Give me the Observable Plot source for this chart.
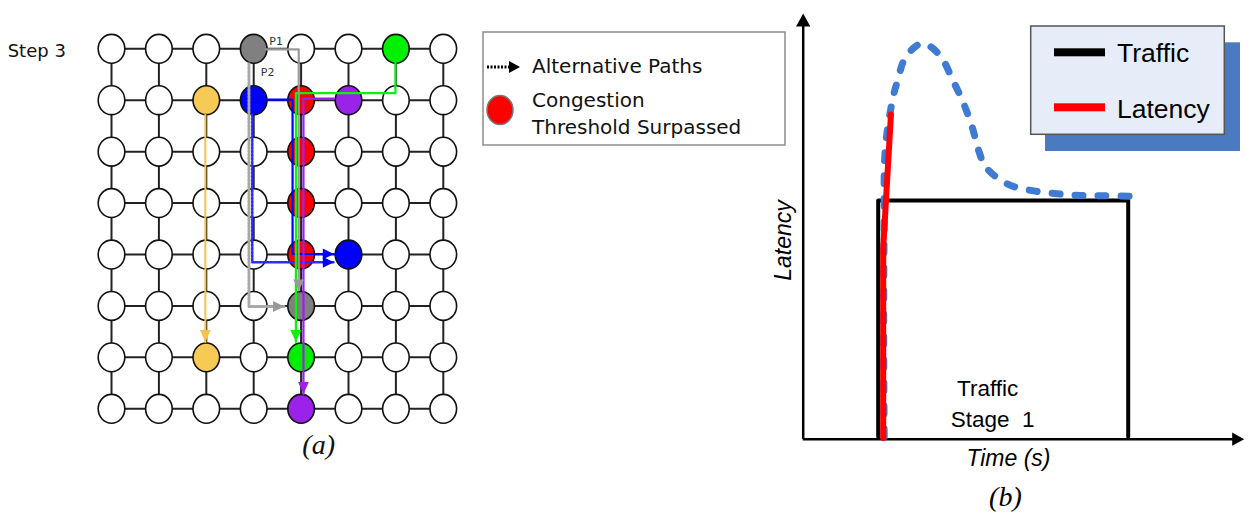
<!DOCTYPE html>
<html><head><meta charset="utf-8">
<script src="https://cdn.jsdelivr.net/npm/d3@7"></script>
<script src="https://cdn.jsdelivr.net/npm/@observablehq/plot@0.6"></script>
<style>
html,body{margin:0;padding:0;background:#fff;}
#root{position:relative;width:1250px;height:516px;overflow:hidden;background:#fff;}
#root > *{position:absolute;}
</style></head><body><div id="root"></div>
<script>
// ================= Panel (a): mesh network =================
const gridCols = [0,1,2,3,4,5,6,7];
const gridRows = [0,1,2,3,4,5,6,7];
// coloured routers: [row, col, colour]
const coloredNodes = [
  [0,3,"#808080"], [0,6,"#00f000"],
  [1,2,"#f7ca55"], [1,3,"#0000ff"], [1,4,"#ff0000"], [1,5,"#9b22e8"],
  [2,4,"#ff0000"], [3,4,"#ff0000"], [4,4,"#ff0000"], [4,5,"#0000ff"],
  [5,4,"#808080"], [6,2,"#f7ca55"], [6,4,"#00f000"], [7,4,"#9b22e8"]
];
// routing paths: vertices as [col, row]
const pathYellow   = [[1.98,1.28],[1.98,5.70]];
const pathGrayP1   = [[3.27,0.01],[3.95,0.01],[3.95,4.70]];
const pathGrayP2   = [[2.90,0.29],[2.90,5.01],[3.64,5.01]];
const pathBlue     = [[3.27,0.99],[3.82,0.99],[3.82,3.99],[4.69,3.99]];
const pathBlueAlt  = [[2.97,1.28],[2.97,4.15],[4.69,4.15]];
const pathGreen    = [[5.99,0.27],[5.99,0.86],[3.89,0.86],[3.89,5.70]];
const pathPurple   = [[4.69,0.97],[4.05,0.97],[4.05,6.71]];
const panelALabels = [
  {text:"Step 3", col:-2.19, row:0.16, size:18, anchor:"start", family:"DejaVu Sans", style:"normal", color:"#111"},
  {text:"P1", col:3.33, row:-0.08, size:11, anchor:"start", family:"DejaVu Sans", style:"normal", color:"#333"},
  {text:"P2", col:3.15, row:0.52, size:11, anchor:"start", family:"DejaVu Sans", style:"normal", color:"#333"},
  {text:"(a)", col:4.37, row:7.87, size:28, anchor:"middle", family:"Liberation Serif", style:"italic", color:"#111"}
];
const legendALabels = ["Alternative Paths", "Congestion", "Threshold Surpassed"];

// ================= Panel (b): traffic / latency =================
const trafficT = [3, 3, 13, 13];
const trafficV = [0.1, 10, 10, 0.1];
const latencyT = [3.24,3.22,3.24,3.28,3.57,3.77,4.10,4.76,5.45,6.00,6.42,6.76,7.02,7.30,8.15,9.10,10.15,11.10,12.05,13.05];
const latencyV = [0.1,5.0,9.0,12.1,14.2,15.0,16.0,16.58,16.1,15.0,14.05,13.07,12.09,11.4,10.7,10.42,10.28,10.21,10.2,10.18];
const latencyRedT = [3.2, 3.2, 3.51];
const latencyRedV = [0.05, 8.0, 13.6];
const panelBLabels = [
  {text:"Traffic", t:7.38, v:1.83, size:22.5, style:"normal", family:"Liberation Sans", rotate:0},
  {text:"Stage\u00a0\u00a01", t:7.58, v:0.53, size:22.5, style:"normal", family:"Liberation Sans", rotate:0},
  {text:"Time (s)", t:8.21, v:-1.14, size:23, style:"italic", family:"Liberation Sans", rotate:0},
  {text:"Latency", t:-0.47, v:8.32, size:23, style:"italic", family:"Liberation Sans", rotate:-90},
  {text:"(b)", t:8.09, v:-2.78, size:28, style:"italic", family:"Liberation Serif", rotate:0}
];
const legendBLabels = ["Traffic", "Latency"];
const legendBColors = ["#000000", "#ff0000"];

// ---------- custom symbols ----------
function arrowHead(dir, hw) {
  return {draw(ctx, size) {
    const l = Math.sqrt(size / Math.PI), w = l * hw;
    if (dir === "down") { ctx.moveTo(0,0); ctx.lineTo(-w,-l); ctx.lineTo(w,-l); }
    else if (dir === "right") { ctx.moveTo(0,0); ctx.lineTo(-l,-w); ctx.lineTo(-l,w); }
    else { ctx.moveTo(0,0); ctx.lineTo(-w,l); ctx.lineTo(w,l); }
    ctx.closePath();
  }};
}
const ellipseSym = {draw(ctx, size) {
  const s = Math.sqrt(size / Math.PI), rx = s * 0.95, ry = s * 1.03, k = 0.5523;
  ctx.moveTo(rx, 0);
  ctx.bezierCurveTo(rx, ry*k, rx*k, ry, 0, ry);
  ctx.bezierCurveTo(-rx*k, ry, -rx, ry*k, -rx, 0);
  ctx.bezierCurveTo(-rx, -ry*k, -rx*k, -ry, 0, -ry);
  ctx.bezierCurveTo(rx*k, -ry, rx, -ry*k, rx, 0);
  ctx.closePath();
}};

const root = document.getElementById("root");

// ---------- Panel (a) plot ----------
const colorMap = new Map(coloredNodes.map(([r,c,f]) => [r + "," + c, f]));
const nodes = d3.cross(gridRows, gridCols).map(([row, col]) => ({row, col, fill: colorMap.get(row + "," + col) || "#ffffff"}));
const toPts = (arr) => arr.map(([col,row]) => ({col, row}));
const tip = (arr) => { const [col,row] = arr[arr.length-1]; return [{col,row}]; };

const plotA = Plot.plot({
  width: 480, height: 516, margin: 0,
  style: {background: "transparent", overflow: "visible"},
  x: {domain: [0,7], range: [111,442.8], axis: null},
  y: {domain: [0,7], range: [48.3,408.3], axis: null},
  color: {type: "identity"},
  marks: [
    Plot.ruleY(gridRows, {y: d => d, x1: 0, x2: 7, stroke: "#222", strokeWidth: 2}),
    Plot.ruleX(gridCols, {x: d => d, y1: 0, y2: 7, stroke: "#222", strokeWidth: 2}),
    Plot.dot(nodes, {x: "col", y: "row", r: 14, symbol: ellipseSym, fill: "fill", stroke: "#111", strokeWidth: 1.6}),
    Plot.line(toPts(pathGrayP2), {x: "col", y: "row", stroke: "#a8a8a8", strokeWidth: 3, strokeDasharray: "2 1.6"}),
    Plot.line(toPts(pathBlueAlt), {x: "col", y: "row", stroke: "#2a2aff", strokeWidth: 2.5, strokeDasharray: "2 1.6"}),
    Plot.line(toPts(pathYellow), {x: "col", y: "row", stroke: "#f5c24c", strokeWidth: 2}),
    Plot.line(toPts(pathBlue), {x: "col", y: "row", stroke: "#0000ff", strokeWidth: 2.2}),
    Plot.line(toPts(pathGreen), {x: "col", y: "row", stroke: "#11ee11", strokeWidth: 2.2}),
    Plot.line(toPts(pathGrayP1), {x: "col", y: "row", stroke: "#999999", strokeWidth: 2.2}),
    Plot.line(toPts(pathPurple), {x: "col", y: "row", stroke: "#9b22e8", strokeWidth: 2.2}),
    Plot.dot(tip(pathYellow), {x: "col", y: "row", r: 12, symbol: arrowHead("down", 0.45), fill: "#f5c24c"}),
    Plot.dot(tip(pathGrayP1), {x: "col", y: "row", r: 11, symbol: arrowHead("down", 0.5), fill: "#999999"}),
    Plot.dot(tip(pathGrayP2), {x: "col", y: "row", r: 11, symbol: arrowHead("right", 0.5), fill: "#999999"}),
    Plot.dot(tip(pathBlue), {x: "col", y: "row", r: 11, symbol: arrowHead("right", 0.5), fill: "#0000ff"}),
    Plot.dot(tip(pathBlueAlt), {x: "col", y: "row", r: 11, symbol: arrowHead("right", 0.5), fill: "#0000ff"}),
    Plot.dot(tip(pathGreen), {x: "col", y: "row", r: 12, symbol: arrowHead("down", 0.45), fill: "#11ee11"}),
    Plot.dot(tip(pathPurple), {x: "col", y: "row", r: 12, symbol: arrowHead("down", 0.45), fill: "#9b22e8"}),
    ...panelALabels.map(l => Plot.text([l], {x: "col", y: "row", text: "text", textAnchor: l.anchor, lineAnchor: "bottom",
      fontSize: l.size, fontFamily: l.family, fontStyle: l.style, fill: l.color}))
  ]
});
plotA.style.left = "0px"; plotA.style.top = "0px";
root.appendChild(plotA);

// ---------- Panel (a) legend ----------
const legA = d3.create("svg").attr("width", 310).attr("height", 125)
  .style("left", "480px").style("top", "25px");
legA.append("rect").attr("x", 3).attr("y", 7).attr("width", 302).attr("height", 113)
  .attr("fill", "#fff").attr("stroke", "#8c8c8c").attr("stroke-width", 1.5);
legA.append("line").attr("x1", 7).attr("x2", 31).attr("y1", 42).attr("y2", 42)
  .attr("stroke", "#000").attr("stroke-width", 3).attr("stroke-dasharray", "2 1.5");
legA.append("path").attr("d", "M29,36L40,42L29,48Z").attr("fill", "#000");
legA.append("ellipse").attr("cx", 20).attr("cy", 85).attr("rx", 13).attr("ry", 14.5)
  .attr("fill", "#ff0000").attr("stroke", "#777").attr("stroke-width", 1.5);
legA.selectAll("text").data(legendALabels).join("text")
  .attr("x", 52).attr("y", (d,i) => [48.3, 81.7, 109][i])
  .attr("font-family", "DejaVu Sans").attr("font-size", 20).attr("fill", "#111").text(d => d);
root.appendChild(legA.node());

// ---------- Panel (b) plot ----------
const traffic = trafficT.map((t,i) => ({t, v: trafficV[i]}));
const latency = latencyT.map((t,i) => ({t, v: latencyV[i]}));
const latencyRed = latencyRedT.map((t,i) => ({t, v: latencyRedV[i]}));
const plotB = Plot.plot({
  width: 470, height: 516, margin: 0,
  style: {background: "transparent", overflow: "visible"},
  x: {domain: [0, 17.64], range: [22.7, 463.7], axis: null},
  y: {domain: [0, 17.83], range: [438.7, 13], axis: null},
  marks: [
    Plot.ruleX([0], {y1: 0, y2: 17.3, stroke: "#000", strokeWidth: 2.5}),
    Plot.ruleY([0], {x1: 0, x2: 17.2, stroke: "#000", strokeWidth: 2.5}),
    Plot.dot([{t: 0, v: 17.83}], {x: "t", y: "v", r: 13, symbol: arrowHead("up", 0.55), fill: "#000"}),
    Plot.dot([{t: 17.64, v: 0}], {x: "t", y: "v", r: 12, symbol: arrowHead("right", 0.55), fill: "#000"}),
    Plot.line(traffic, {x: "t", y: "v", stroke: "#000", strokeWidth: 4}),
    Plot.line(latency, {x: "t", y: "v", stroke: "#3f7bd3", strokeWidth: 7, strokeDasharray: "8 15",
      strokeLinecap: "round", curve: "catmull-rom"}),
    Plot.line(latencyRed, {x: "t", y: "v", stroke: "#ff0000", strokeWidth: 6}),
    ...panelBLabels.map(l => Plot.text([l], {x: "t", y: "v", text: "text", textAnchor: "middle", lineAnchor: "bottom",
      rotate: l.rotate, fontSize: l.size, fontFamily: l.family, fontStyle: l.style, fill: "#000"}))
  ]
});
plotB.style.left = "780px"; plotB.style.top = "0px";
root.appendChild(plotB);

// ---------- Panel (b) legend ----------
const legB = d3.create("svg").attr("width", 216).attr("height", 133)
  .style("left", "1028px").style("top", "22px");
legB.append("rect").attr("x", 17).attr("y", 20.3).attr("width", 195).attr("height", 108.7).attr("fill", "#4a7ac2");
legB.append("rect").attr("x", 2.7).attr("y", 4).attr("width", 193.6).attr("height", 108.3)
  .attr("fill", "#e7edf8").attr("stroke", "#555").attr("stroke-width", 1.5);
legendBLabels.forEach((lab, i) => {
  const y = [30.3, 85.3][i];
  legB.append("rect").attr("x", 26).attr("y", y - 4).attr("width", 51).attr("height", 8).attr("fill", legendBColors[i]);
  legB.append("text").attr("x", 89).attr("y", [40.3, 95.7][i]).attr("font-family", "Liberation Sans")
    .attr("font-size", 26.5).attr("fill", "#000").text(lab);
});
root.appendChild(legB.node());
</script></body></html>
